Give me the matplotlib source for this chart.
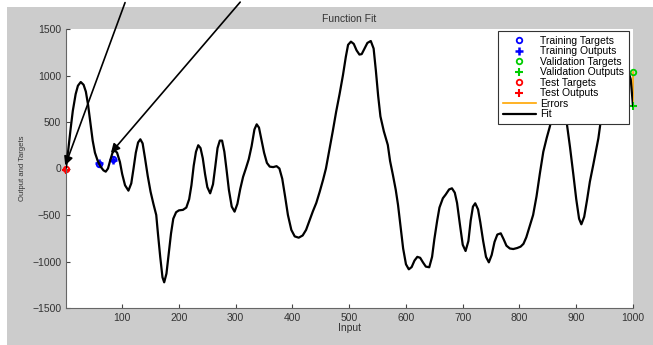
import matplotlib.pyplot as plt
from matplotlib.patches import Rectangle

plt.rcParams['font.family'] = ['Liberation Sans', 'DejaVu Sans']

# fit curve
fit_x = [1, 5, 9, 13, 18, 22, 27, 32, 36, 40, 44, 48, 52, 57, 62, 67, 71, 75, 79, 83, 87, 91,
         96, 100, 105, 111, 116, 120, 124, 128, 132, 136, 140, 145, 150, 155, 160, 163, 167,
         171, 174, 178, 182, 186, 190, 195, 200, 207, 213, 218, 222, 226, 230, 234, 238, 242,
         246, 250, 255, 260, 264, 268, 272, 276, 280, 284, 288, 293, 298, 303, 308, 313, 318,
         323, 328, 333, 337, 341, 345, 350, 355, 360, 366, 372, 377, 382, 387, 392, 398, 404,
         411, 418, 424, 430, 436, 442, 448, 454, 459, 465, 471, 477, 483, 489, 494, 498, 503,
         508, 513, 518, 522, 527, 532, 538, 543, 547, 551, 555, 561, 568, 572, 577, 582, 586,
         590, 595, 600, 605, 610, 615, 620, 625, 630, 635, 641, 646, 650, 655, 659, 665, 670,
         676, 681, 686, 690, 695, 700, 705, 710, 714, 718, 722, 727, 731, 736, 741, 746, 751,
         756, 761, 767, 772, 777, 783, 789, 796, 802, 807, 812, 818, 824, 830, 836, 842, 848,
         853, 858, 863, 868, 873, 878, 883, 889, 895, 900, 905, 909, 914, 919, 924, 930, 935,
         939, 943, 950, 958, 966, 975, 985, 992, 996, 1000]
fit_y = [10, 200, 420, 620, 800, 890, 930, 900, 826, 680, 490, 300, 170, 80, 20, -20, -34, 0,
         90, 170, 195, 170, 70, -60, -180, -238, -160, 0, 170, 280, 314, 270, 120, -80, -250,
         -380, -500, -700, -950, -1170, -1224, -1130, -920, -700, -540, -470, -450, -445, -420,
         -330, -180, 30, 180, 250, 220, 110, -60, -200, -267, -170, 20, 220, 300, 300, 180, -20,
         -230, -410, -464, -380, -220, -90, 2, 100, 240, 420, 475, 440, 320, 170, 60, 20, 15,
         25, 0, -110, -300, -500, -660, -730, -744, -720, -660, -560, -460, -370, -250, -120, 0,
         200, 400, 611, 800, 1005, 1200, 1330, 1364, 1340, 1270, 1225, 1230, 1290, 1350, 1371,
         1290, 1050, 780, 560, 400, 253, 80, -70, -230, -392, -600, -860, -1030, -1084, -1060,
         -990, -950, -960, -1010, -1055, -1062, -950, -760, -560, -420, -320, -280, -225, -213,
         -260, -370, -600, -820, -887, -780, -560, -410, -374, -440, -580, -780, -950, -1009,
         -930, -790, -710, -697, -760, -830, -860, -866, -855, -840, -810, -740, -620, -500,
         -300, -50, 181, 330, 440, 560, 750, 880, 900, 780, 503, 230, -70, -330, -540, -600,
         -520, -340, -142, 40, 200, 325, 503, 750, 950, 1060, 1090, 1070, 1040, 960, 672]

train_x = [60, 83]
train_targets = [50, 100]
train_outputs = [56, 91]
val_x = [1000]
val_targets = [1041]
val_outputs = [672]
test_x = [1]
test_targets = [0]
test_outputs = [-15]

fig = plt.figure(figsize=(6.53, 3.45), dpi=100)
fig.patch.set_facecolor('white')
fig.patches.append(Rectangle((7 / 653, 0), 1, 338 / 345, transform=fig.transFigure,
                             facecolor='#cccccc', edgecolor='none', zorder=-10))

ax = fig.add_axes([66 / 653, 37 / 345, 567 / 653, 279 / 345])
ax.set_facecolor('white')

# error bars
for xs, t, o in [(train_x, train_targets, train_outputs), (val_x, val_targets, val_outputs),
                 (test_x, test_targets, test_outputs)]:
    for x, a, b in zip(xs, t, o):
        ax.plot([x, x], [a, b], color='#ffa500', lw=1.2, zorder=2, clip_on=False)

ax.plot(train_x, train_targets, 'o', color='blue', mfc='none', ms=4, mew=1.3, label='Training Targets')
ax.plot(train_x, train_outputs, '+', color='blue', ms=6, mew=1.8, label='Training Outputs')
ax.plot(val_x, val_targets, 'o', color='#00cc00', mfc='none', ms=4, mew=1.3, label='Validation Targets', clip_on=False)
ax.plot(val_x, val_outputs, '+', color='#00cc00', ms=6, mew=1.5, label='Validation Outputs', clip_on=False)
ax.plot(test_x, test_targets, 'o', color='red', mfc='none', ms=4, mew=1.3, label='Test Targets', clip_on=False)
ax.plot(test_x, test_outputs, '+', color='red', ms=6, mew=1.5, label='Test Outputs', clip_on=False)
ax.plot([], [], color='#ffa500', lw=1.2, label='Errors')
ax.plot(fit_x, fit_y, color='black', lw=1.6, label='Fit', zorder=3,
        solid_joinstyle='round', solid_capstyle='round')

ax.set_xlim(1, 1000)
ax.set_ylim(-1500, 1500)
ax.set_xticks(range(100, 1001, 100))
ax.set_yticks(range(-1500, 1501, 500))
ax.tick_params(direction='in', labelsize=7.5, length=3, colors='#444444', labelcolor='#333333')
for s in ['top', 'right']:
    ax.spines[s].set_visible(False)
for s in ['left', 'bottom']:
    ax.spines[s].set_color('#666666')

ax.set_title('Function Fit', fontsize=7.5, color='#333333', pad=5)
ax.set_xlabel('Input', fontsize=7.5, color='#333333', labelpad=0)
ax.set_ylabel('Output and Targets', fontsize=5.5, color='#333333', labelpad=4)

leg = ax.legend(loc='upper right', bbox_to_anchor=(629 / 653, 314 / 345), bbox_transform=fig.transFigure,
                fontsize=7.5, frameon=True, fancybox=False, framealpha=1, handlelength=3.2,
                handletextpad=0.4, labelspacing=0.05, borderpad=0.45, borderaxespad=0)
leg.get_frame().set_edgecolor('#333333')
leg.get_frame().set_linewidth(0.8)
leg.set_zorder(5)

# the two pointer arrows drawn over the screenshot
for tip, start in [((-2, 5), (126 / 653, 1.0)), ((77, 145), (242 / 653, 1.0))]:
    ax.annotate('', xy=tip, xytext=start, textcoords='figure fraction',
                arrowprops=dict(arrowstyle='-|>', color='black', lw=1.2, mutation_scale=13),
                annotation_clip=False, zorder=10)

fig.savefig('out.png', dpi=100)
